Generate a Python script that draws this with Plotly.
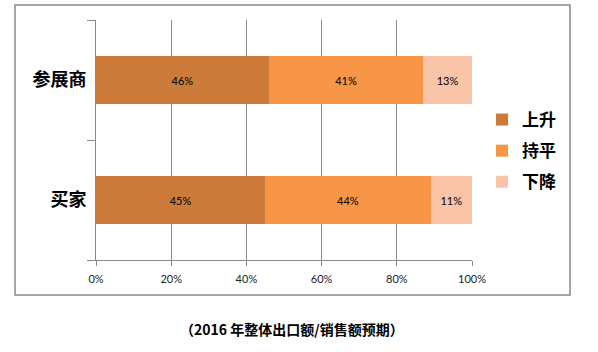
import plotly.graph_objects as go

categories = ["买家", "参展商"]
series_names = ["上升", "持平", "下降"]
rise = [45, 46]
flat = [44, 41]
fall = [11, 13]
colors = ["#CD7B3A", "#F79646", "#FAC4A8"]
x_ticks = [0, 20, 40, 60, 80, 100]
x_tick_labels = ["0%", "20%", "40%", "60%", "80%", "100%"]
caption = "（2016 年整体出口额/销售额预期）"

W, H = 598, 352
L, R, T, B = 96, 126, 20, 92
pw, ph = W - L - R, H - T - B

fig = go.Figure()
for name, vals, col in zip(series_names, [rise, flat, fall], colors):
    fig.add_trace(go.Bar(
        y=categories, x=vals, name=name, orientation="h",
        legendgroup=name,
        marker=dict(color=col, line=dict(width=0)),
        text=[f"{v}%" for v in vals], textposition="inside",
        insidetextanchor="middle",
        textfont=dict(family="Lato, Open Sans, sans-serif", size=11, color="#000000"),
        hoverinfo="skip",
    ))

fig.update_layout(
    width=W, height=H,
    margin=dict(l=L, r=R, t=T, b=B),
    barmode="stack", bargap=0.6,
    plot_bgcolor="white", paper_bgcolor="white",
    uniformtext=dict(minsize=8, mode="show"),
    xaxis=dict(range=[0, 100], tickvals=x_ticks, ticktext=x_tick_labels,
               showgrid=True, gridcolor="#888888", gridwidth=1,
               showline=True, linecolor="#888888", linewidth=1,
               ticks="outside", ticklen=5, tickcolor="#888888",
               ticklabelstandoff=4,
               tickfont=dict(family="Lato, Open Sans, sans-serif", size=11, color="#222222"),
               zeroline=False, fixedrange=True),
    yaxis=dict(showline=True, linecolor="#888888", linewidth=1,
               ticks="outside", ticklen=8, tickcolor="#888888",
               tickson="boundaries", showgrid=False,
               tickfont=dict(family="Noto Sans CJK SC", size=18, color="#000000", weight="bold"),
               ticklabelstandoff=5, fixedrange=True),
    legend=dict(x=(482 - L) / pw, y=1 - (102 - T) / ph,
                xanchor="left", yanchor="top", traceorder="grouped",
                tracegroupgap=6,
                font=dict(family="Noto Sans CJK SC", size=17, color="#000000", weight="bold"),
                bgcolor="rgba(0,0,0,0)"),
    showlegend=True,
)

# outer chart border
fig.add_shape(type="rect", xref="paper", yref="paper",
              x0=(15 - L) / pw, x1=(570 - L) / pw,
              y0=1 - (295 - T) / ph, y1=1 + (T - 5) / ph,
              line=dict(color="#888888", width=1.5), fillcolor="rgba(0,0,0,0)", layer="below")

fig.add_annotation(text=caption, xref="paper", yref="paper",
                   x=(292 - L) / pw, y=1 - (329 - T) / ph, xanchor="center", yanchor="middle",
                   showarrow=False,
                   font=dict(family="Noto Sans CJK SC", size=14, color="#000000", weight="bold"))

fig.write_html("out.html")
